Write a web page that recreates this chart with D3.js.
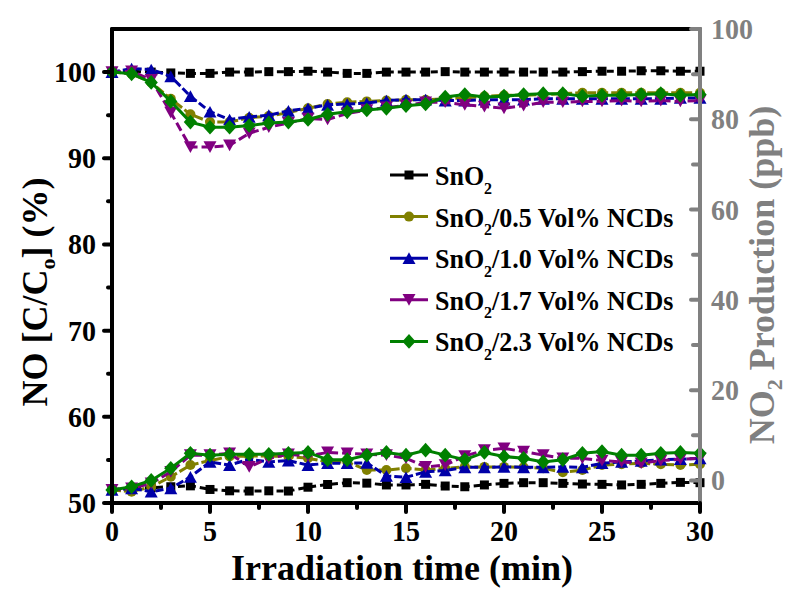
<!DOCTYPE html>
<html>
<head>
<meta charset="utf-8">
<script src="https://cdn.jsdelivr.net/npm/d3@7"></script>
<style>
  html, body { margin: 0; padding: 0; background: #fff; }
  svg { display: block; font-family: "Liberation Serif", "Times New Roman", serif; font-weight: bold; }
</style>
</head>
<body>
<svg id="chart" width="787" height="590"></svg>
<script>
// Irradiation time (min)
const timeMin = [0,1,2,3,4,5,6,7,8,9,10,11,12,13,14,15,16,17,18,19,20,21,22,23,24,25,26,27,28,29,30];

// Series names shown in the legend
const seriesNames = ["SnO2", "SnO2/0.5 Vol% NCDs", "SnO2/1.0 Vol% NCDs", "SnO2/1.7 Vol% NCDs", "SnO2/2.3 Vol% NCDs"];

// NO removal, C/C0 (%)
const noSnO2 = [100, 100.1, 100, 99.9, 99.85, 99.85, 100, 100, 100.05, 100.05, 100.1, 100, 99.85, 99.85, 100, 100, 100, 100.05, 100, 100, 100, 100, 100, 100, 100.05, 100.1, 100.1, 100.15, 100.15, 100.1, 100.1];
const no05 = [100, 99.8, 98.8, 96.9, 95.1, 94.2, 94.2, 94.7, 94.9, 95.3, 95.8, 96.3, 96.5, 96.6, 96.7, 96.8, 96.8, 96.9, 97.0, 97.2, 97.3, 97.3, 97.4, 97.5, 97.6, 97.6, 97.6, 97.6, 97.6, 97.6, 97.6];
const no10 = [100, 100.4, 100.3, 99.5, 97.2, 95.4, 94.5, 94.8, 95.0, 95.5, 95.8, 96.2, 96.3, 96.4, 96.7, 96.8, 96.8, 96.7, 96.7, 96.8, 96.8, 96.8, 96.9, 96.9, 96.9, 96.9, 96.9, 96.9, 96.9, 97.0, 97.0];
const no17 = [100, 100.1, 99.1, 95.3, 91.3, 91.3, 91.5, 92.9, 93.6, 94.1, 94.6, 94.5, 95.2, 95.6, 95.9, 96.1, 96.5, 96.5, 96.2, 96.0, 95.8, 96.1, 96.5, 96.5, 96.6, 96.6, 96.7, 96.6, 96.7, 96.6, 96.7];
const no23 = [100, 99.8, 98.8, 96.6, 94.2, 93.6, 93.6, 93.8, 94.1, 94.2, 94.5, 95.1, 95.4, 95.6, 95.8, 96.1, 96.3, 97.1, 97.4, 97.1, 97.2, 97.4, 97.5, 97.5, 97.2, 97.3, 97.3, 97.4, 97.5, 97.3, 97.4];

// NO2 production (ppb)
const no2SnO2 = [-2.0, -1.75, -1.6, -1.4, -1.2, -2.0, -2.3, -2.35, -2.3, -2.35, -1.5, -0.9, -0.5, -0.6, -1.0, -1.0, -0.87, -1.24, -1.4, -1.0, -0.65, -0.5, -0.5, -0.65, -0.8, -0.87, -1.0, -0.87, -0.65, -0.43, -0.5];
const no2_05 = [-2.1, -2.5, -1.4, 0.8, 3.4, 4.4, 5.3, 5.4, 5.4, 5.3, 4.9, 4.1, 4.1, 2.3, 2.3, 2.7, 2.3, 2.7, 3.0, 3.0, 3.0, 2.9, 2.7, 1.8, 2.3, 3.4, 3.6, 3.8, 3.6, 3.4, 3.6];
const no2_10 = [-2.1, -1.75, -2.5, -1.75, 0.8, 4.1, 3.4, 4.7, 4.1, 4.4, 3.4, 3.8, 3.8, 3.9, 1.0, 0.7, 1.9, 2.2, 2.9, 2.9, 3.0, 2.9, 2.9, 3.0, 2.9, 3.8, 4.1, 4.3, 4.6, 4.7, 4.9];
const no2_17 = [-2.1, -1.75, -0.65, 1.9, 5.6, 5.6, 6.0, 3.0, 4.9, 5.8, 5.4, 6.2, 6.0, 5.8, 5.6, 4.9, 3.0, 3.4, 5.4, 6.7, 7.1, 6.4, 5.6, 4.9, 4.9, 4.4, 4.1, 3.8, 4.4, 4.7, 4.9];
const no2_23 = [-2.1, -1.4, 0.0, 2.7, 6.0, 5.6, 5.8, 5.8, 5.8, 6.0, 6.2, 4.6, 4.6, 5.6, 6.2, 5.6, 6.7, 5.6, 4.6, 6.2, 5.3, 4.9, 4.1, 4.6, 6.0, 6.4, 5.6, 5.6, 6.0, 6.2, 6.0];

// Tick values
const xTicks = [0, 5, 10, 15, 20, 25, 30];
const xMinor = [2.5, 7.5, 12.5, 17.5, 22.5, 27.5];
const yLeftTicks = [50, 60, 70, 80, 90, 100];
const yLeftMinor = [55, 65, 75, 85, 95];
const yRightTicks = [0, 20, 40, 60, 80, 100];
const yRightMinor = [10, 30, 50, 70, 90];

const svg = d3.select("#chart");
const L = 112, R = 700, T = 29, B = 503;
const axisGray = "#808080";
const stretch = 1.08; // slightly tall lettering

const x = d3.scaleLinear().domain([0, 30]).range([L, R]);
const yL = d3.scaleLinear().domain([50, 105]).range([B, T]);
const yR = d3.scaleLinear().domain([-5, 100]).range([B, T]);

// marker shapes, each centred on its bounding box
const shapes = {
  square: s => `M${-s/2},${-s/2}h${s}v${s}h${-s}Z`,
  circle: s => { const r = s/2; return `M${r},0A${r},${r} 0 1,1 ${-r},0A${r},${r} 0 1,1 ${r},0Z`; },
  up: s => { const h = s*0.9; return `M0,${-h/2}L${s/2},${h/2}L${-s/2},${h/2}Z`; },
  down: s => { const h = s*0.9; return `M0,${h/2}L${s/2},${-h/2}L${-s/2},${-h/2}Z`; },
  diamond: s => { const w = s*0.95, h = s*1.05; return `M0,${-h/2}L${w/2},0L0,${h/2}L${-w/2},0Z`; }
};

const styles = [
  { color: "#000000", shape: "square",  size: 9,  dash: "7,4" },
  { color: "#808000", shape: "circle",  size: 10, dash: "9,3" },
  { color: "#0000a8", shape: "up",      size: 13, dash: "8,3" },
  { color: "#800080", shape: "down",    size: 13, dash: "9,4" },
  { color: "#008000", shape: "diamond", size: 14, dash: null }
];

const noSeries = [noSnO2, no05, no10, no17, no23];
const no2Series = [no2SnO2, no2_05, no2_10, no2_17, no2_23];

const plot = svg.append("g");

function drawSeries(values, yScale, st) {
  const pts = timeMin.map((t, i) => [x(t), yScale(values[i])]);
  plot.append("path")
    .attr("d", d3.line()(pts))
    .attr("fill", "none")
    .attr("stroke", st.color)
    .attr("stroke-width", 3)
    .attr("stroke-dasharray", st.dash);
  plot.selectAll(null).data(pts).enter().append("path")
    .attr("transform", d => `translate(${d[0]},${d[1]})`)
    .attr("d", shapes[st.shape](st.size))
    .attr("fill", st.color);
}

styles.forEach((st, i) => {
  drawSeries(noSeries[i], yL, st);
  drawSeries(no2Series[i], yR, st);
});

// frame & axes
const ax = svg.append("g").attr("stroke-linecap", "round");
ax.append("line").attr("x1", L).attr("x2", R).attr("y1", T).attr("y2", T).attr("stroke", "#000").attr("stroke-width", 4);
ax.append("line").attr("x1", L).attr("x2", R).attr("y1", B).attr("y2", B).attr("stroke", "#000").attr("stroke-width", 4);
ax.append("line").attr("x1", L).attr("x2", L).attr("y1", T).attr("y2", B).attr("stroke", "#000").attr("stroke-width", 4);
ax.append("line").attr("x1", R).attr("x2", R).attr("y1", T).attr("y2", B).attr("stroke", axisGray).attr("stroke-width", 4);

// bottom axis ticks (outward)
xTicks.forEach(v => ax.append("line").attr("x1", x(v)).attr("x2", x(v)).attr("y1", B).attr("y2", B + 9).attr("stroke", "#000").attr("stroke-width", 4));
xMinor.forEach(v => ax.append("line").attr("x1", x(v)).attr("x2", x(v)).attr("y1", B).attr("y2", B + 5).attr("stroke", "#000").attr("stroke-width", 4));
// left axis ticks (outward)
yLeftTicks.forEach(v => ax.append("line").attr("x1", L - 8).attr("x2", L).attr("y1", yL(v)).attr("y2", yL(v)).attr("stroke", "#000").attr("stroke-width", 4));
yLeftMinor.forEach(v => ax.append("line").attr("x1", L - 4).attr("x2", L).attr("y1", yL(v)).attr("y2", yL(v)).attr("stroke", "#000").attr("stroke-width", 4));
// right axis ticks (inward)
yRightTicks.forEach(v => ax.append("line").attr("x1", R - 9).attr("x2", R).attr("y1", yR(v)).attr("y2", yR(v)).attr("stroke", axisGray).attr("stroke-width", 4));
yRightMinor.forEach(v => ax.append("line").attr("x1", R - 7).attr("x2", R).attr("y1", yR(v)).attr("y2", yR(v)).attr("stroke", axisGray).attr("stroke-width", 4));

// text placed at (px, py) with a slight vertical stretch
function label(parent, px, py, size) {
  return parent.append("text")
    .attr("transform", `translate(${px},${py}) scale(1,${stretch})`)
    .attr("font-size", size);
}

// tick labels
const lab = svg.append("g");
xTicks.forEach(v => label(lab, x(v), 541, 28).attr("text-anchor", "middle").text(v));
yLeftTicks.forEach(v => label(lab, 96, yL(v) + 10, 28).attr("text-anchor", "end").text(v));
yRightTicks.forEach(v => label(lab, 711, yR(v) + 10, 28).attr("fill", axisGray).text(v));

// axis titles
svg.append("text").attr("x", (232 + 572) / 2).attr("y", 580).attr("text-anchor", "middle")
  .attr("font-size", 36).text("Irradiation time (min)");

const lt = svg.append("text").attr("transform", "translate(47,292) rotate(-90)")
  .attr("text-anchor", "middle").attr("font-size", 36);
lt.append("tspan").text("NO [C/C");
lt.append("tspan").attr("font-size", 22).attr("dy", 8).text("o");
lt.append("tspan").attr("dy", -8).text("] (%)");

const rt = svg.append("text").attr("transform", "translate(774,275) rotate(-90)")
  .attr("text-anchor", "middle").attr("font-size", 36).attr("fill", axisGray);
rt.append("tspan").text("NO");
rt.append("tspan").attr("font-size", 22).attr("dy", 8).text("2");
rt.append("tspan").attr("dy", -8).text(" Production (ppb)");

// legend
const leg = svg.append("g");
seriesNames.forEach((name, i) => {
  const st = styles[i];
  const cy = 175 + i * 41.6;
  leg.append("line").attr("x1", 390).attr("x2", 428).attr("y1", cy).attr("y2", cy)
    .attr("stroke", st.color).attr("stroke-width", 3);
  leg.append("path").attr("transform", `translate(409,${cy})`).attr("d", shapes[st.shape](st.size)).attr("fill", st.color);
  const t = label(leg, 435, cy + 10, 26);
  t.append("tspan").text("SnO");
  t.append("tspan").attr("font-size", 16).attr("dy", 8).text("2");
  const rest = name.slice(4);
  if (rest) t.append("tspan").attr("dy", -8).text(rest);
});
</script>
</body>
</html>
